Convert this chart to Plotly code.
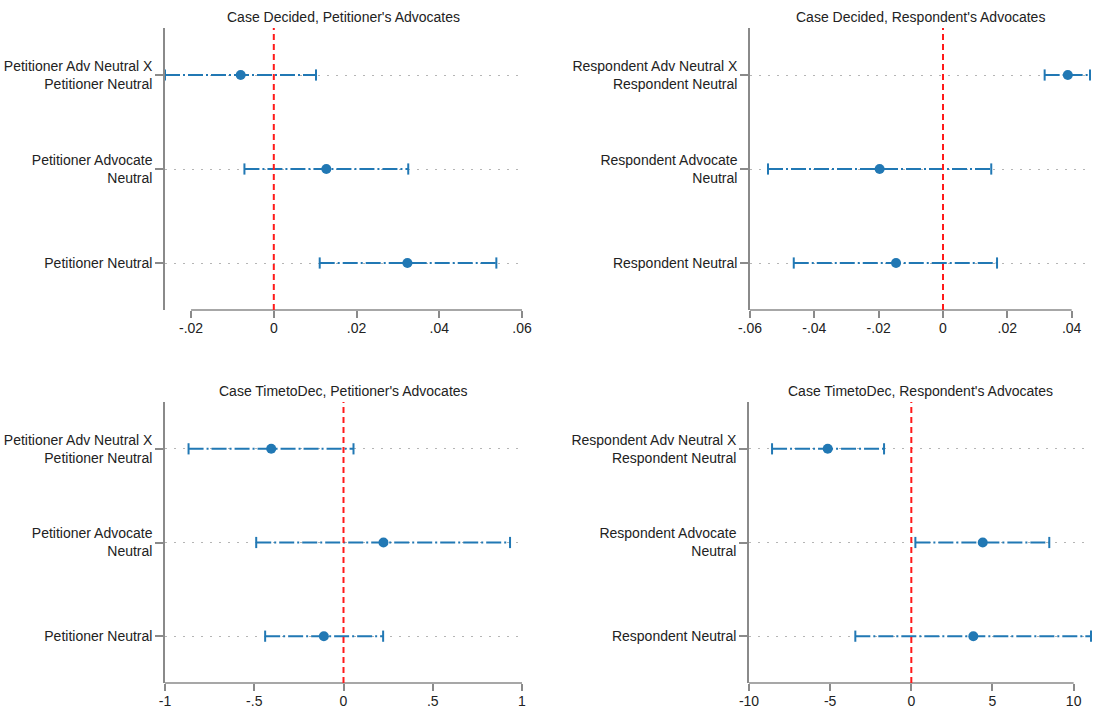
import plotly.graph_objects as go

# ---------------- data ----------------
row_labels_pet = ["Petitioner Adv Neutral X<br>Petitioner Neutral",
                  "Petitioner Advocate<br>Neutral",
                  "Petitioner Neutral"]
row_labels_res = ["Respondent Adv Neutral X<br>Respondent Neutral",
                  "Respondent Advocate<br>Neutral",
                  "Respondent Neutral"]

panel_titles = ["Case Decided, Petitioner's Advocates",
                "Case Decided, Respondent's Advocates",
                "Case TimetoDec, Petitioner's Advocates",
                "Case TimetoDec, Respondent's Advocates"]

# Case Decided, Petitioner's Advocates
dec_pet_coef = [-0.0080, 0.0127, 0.0323]
dec_pet_lo = [-0.0263, -0.0071, 0.0111]
dec_pet_hi = [0.0102, 0.0325, 0.0538]

# Case Decided, Respondent's Advocates
dec_res_coef = [0.0388, -0.0197, -0.0146]
dec_res_lo = [0.0316, -0.0544, -0.0464]
dec_res_hi = [0.0457, 0.0150, 0.0168]

# Case TimetoDec, Petitioner's Advocates
ttd_pet_coef = [-0.405, 0.224, -0.110]
ttd_pet_lo = [-0.868, -0.489, -0.439]
ttd_pet_hi = [0.056, 0.933, 0.222]

# Case TimetoDec, Respondent's Advocates
ttd_res_coef = [-5.15, 4.40, 3.82]
ttd_res_lo = [-8.58, 0.25, -3.45]
ttd_res_hi = [-1.68, 8.50, 11.07]

tick_vals_1 = [-0.02, 0, 0.02, 0.04, 0.06]
tick_text_1 = ["-.02", "0", ".02", ".04", ".06"]
tick_vals_2 = [-0.06, -0.04, -0.02, 0, 0.02, 0.04]
tick_text_2 = ["-.06", "-.04", "-.02", "0", ".02", ".04"]
tick_vals_3 = [-1, -0.5, 0, 0.5, 1]
tick_text_3 = ["-1", "-.5", "0", ".5", "1"]
tick_vals_4 = [-10, -5, 0, 5, 10]
tick_text_4 = ["-10", "-5", "0", "5", "10"]

# ---------------- style ----------------
W, H = 1094, 713
FONT = "Liberation Sans, Arial, sans-serif"
FS = 14
BLUE = "#2178b4"
GRAY = "#8a8a8a"
TXT = "#222222"

panels = [
    dict(coef=dec_pet_coef, lo=dec_pet_lo, hi=dec_pet_hi, labels=row_labels_pet,
         tv=tick_vals_1, tt=tick_text_1, px=(165, 522), py=(28, 310)),
    dict(coef=dec_res_coef, lo=dec_res_lo, hi=dec_res_hi, labels=row_labels_res,
         tv=tick_vals_2, tt=tick_text_2, px=(750, 1090), py=(28, 310)),
    dict(coef=ttd_pet_coef, lo=ttd_pet_lo, hi=ttd_pet_hi, labels=row_labels_pet,
         tv=tick_vals_3, tt=tick_text_3, px=(165, 522), py=(402, 683)),
    dict(coef=ttd_res_coef, lo=ttd_res_lo, hi=ttd_res_hi, labels=row_labels_res,
         tv=tick_vals_4, tt=tick_text_4, px=(749, 1091), py=(402, 683)),
]

fig = go.Figure()
shapes = []
annotations = []
layout = {}

for i, p in enumerate(panels):
    k = "" if i == 0 else str(i + 1)
    xa, ya = "x" + k, "y" + k
    rows = [1, 2, 3]
    # CI lines
    for r, lo, hi in zip(rows, p["lo"], p["hi"]):
        fig.add_trace(go.Scatter(
            x=[lo, hi], y=[r, r], xaxis=xa, yaxis=ya, mode="lines",
            line=dict(color=BLUE, width=2, dash="15px,3px,2px,3px"),
            showlegend=False, hoverinfo="skip", cliponaxis=False))
    # caps
    fig.add_trace(go.Scatter(
        x=p["lo"] + p["hi"], y=rows + rows, xaxis=xa, yaxis=ya, mode="markers",
        marker=dict(symbol="line-ns", size=8, line=dict(color=BLUE, width=2)),
        showlegend=False, hoverinfo="skip", cliponaxis=False))
    # point estimates
    fig.add_trace(go.Scatter(
        x=p["coef"], y=rows, xaxis=xa, yaxis=ya, mode="markers",
        marker=dict(symbol="circle", size=10, color=BLUE),
        showlegend=False, cliponaxis=False))

    xmin = min(min(p["lo"]), min(p["tv"]))
    xmax = max(max(p["hi"]), max(p["tv"]))
    layout["xaxis" + k] = dict(
        domain=[p["px"][0] / W, p["px"][1] / W], anchor=ya,
        range=[xmin, xmax], tickvals=p["tv"], ticktext=p["tt"],
        ticks="outside", ticklen=7, tickcolor=GRAY, tickwidth=1.5,
        ticklabelstandoff=-2,
        showline=False, showgrid=False, zeroline=False, automargin=False,
        tickfont=dict(family=FONT, size=FS, color=TXT))
    layout["yaxis" + k] = dict(
        domain=[1 - p["py"][1] / H, 1 - p["py"][0] / H], anchor=xa,
        range=[3.5, 0.5], tickvals=rows, ticktext=p["labels"],
        ticks="outside", ticklen=8, tickcolor=GRAY, tickwidth=1.5,
        showline=True, linecolor=GRAY, linewidth=1.5,
        showgrid=True, gridcolor="#b5b5b5", griddash="2px,7px", gridwidth=1,
        zeroline=False, automargin=False,
        tickfont=dict(family=FONT, size=FS, color=TXT))
    # x axis line spanning tick range
    shapes.append(dict(type="line", xref=xa, yref=ya + " domain",
                       x0=min(p["tv"]), x1=max(p["tv"]), y0=0, y1=0,
                       line=dict(color=GRAY, width=1.5), layer="above"))
    # reference line at zero
    shapes.append(dict(type="line", xref=xa, yref=ya + " domain",
                       x0=0, x1=0, y0=0, y1=1,
                       line=dict(color="#ff1a1a", width=2, dash="6px,4px"),
                       layer="above"))
    annotations.append(dict(
        text=panel_titles[i], xref=xa + " domain", yref="paper",
        x=0.5, y=1 - (p["py"][0] - 11) / H, xanchor="center", yanchor="middle",
        showarrow=False, font=dict(family=FONT, size=FS, color=TXT)))

fig.update_layout(
    width=W, height=H, autosize=False,
    margin=dict(l=0, r=0, t=0, b=0),
    paper_bgcolor="white", plot_bgcolor="white",
    shapes=shapes, annotations=annotations,
    **layout)

fig.write_html("out.html")
